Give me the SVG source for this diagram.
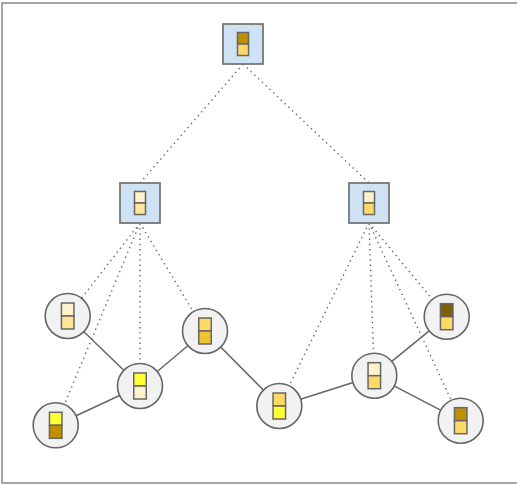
<svg xmlns="http://www.w3.org/2000/svg" width="517" height="484" viewBox="0 0 517 484">
<style>
.frame{fill:#fff;stroke:#888;stroke-width:1.5}
.box{fill:#cfe2f3;stroke:#777;stroke-width:1.8}
.circ{fill:#f2f2f2;stroke:#666;stroke-width:1.6}
.cell{stroke:#666;stroke-width:1.5}
.solid{stroke:#666;stroke-width:1.5;fill:none}
.dot{stroke:#666;stroke-width:1.4;stroke-dasharray:1.4 3.8;fill:none}
</style>
<rect class="frame" x="2" y="3" width="520" height="480"/>
<g id="connectors">
<line class="dot" x1="243" y1="64" x2="140" y2="183"/>
<line class="dot" x1="243" y1="64" x2="369" y2="183"/>
<line class="dot" x1="140" y1="223" x2="67.7" y2="316"/>
<line class="dot" x1="140" y1="223" x2="55.7" y2="425.3"/>
<line class="dot" x1="140" y1="223" x2="140" y2="386"/>
<line class="dot" x1="140" y1="223" x2="205" y2="331.3"/>
<line class="dot" x1="369" y1="223" x2="279.3" y2="406"/>
<line class="dot" x1="369" y1="223" x2="374.3" y2="375.7"/>
<line class="dot" x1="369" y1="223" x2="446.7" y2="316.7"/>
<line class="dot" x1="369" y1="223" x2="460.7" y2="420.7"/>
<line class="solid" x1="67.7" y1="316" x2="140" y2="386"/>
<line class="solid" x1="140" y1="386" x2="205" y2="331.3"/>
<line class="solid" x1="140" y1="386" x2="55.7" y2="425.3"/>
<line class="solid" x1="205" y1="331.3" x2="279.3" y2="406"/>
<line class="solid" x1="279.3" y1="406" x2="374.3" y2="375.7"/>
<line class="solid" x1="374.3" y1="375.7" x2="446.7" y2="316.7"/>
<line class="solid" x1="374.3" y1="375.7" x2="460.7" y2="420.7"/>
</g>
<g id="root">
<rect class="box" x="223" y="24" width="40" height="40"/>
<rect class="cell" x="237.5" y="32.5" width="11" height="11.5" fill="#bf9000"/>
<rect class="cell" x="237.5" y="44" width="11" height="11.5" fill="#ffd966"/>
</g>
<g id="midLeft">
<rect class="box" x="120" y="183" width="40" height="40"/>
<rect class="cell" x="134.5" y="191.5" width="11" height="11.5" fill="#fff2cc"/>
<rect class="cell" x="134.5" y="203" width="11" height="11.5" fill="#ffe599"/>
</g>
<g id="midRight">
<rect class="box" x="349" y="183" width="40" height="40"/>
<rect class="cell" x="363.5" y="191.5" width="11" height="11.5" fill="#fff2cc"/>
<rect class="cell" x="363.5" y="203" width="11" height="11.5" fill="#ffd966"/>
</g>
<g id="nA" transform="translate(67.7,316)">
<circle class="circ" r="22.5"/>
<rect class="cell" x="-6.25" y="-13" width="12.5" height="13" fill="#fff2cc"/>
<rect class="cell" x="-6.25" y="0" width="12.5" height="13" fill="#ffe599"/>
</g>
<g id="nB" transform="translate(140,386)">
<circle class="circ" r="22.5"/>
<rect class="cell" x="-6.25" y="-13" width="12.5" height="13" fill="#ffff33"/>
<rect class="cell" x="-6.25" y="0" width="12.5" height="13" fill="#fff2cc"/>
</g>
<g id="nC" transform="translate(205,331)">
<circle class="circ" r="22.5"/>
<rect class="cell" x="-6.25" y="-13" width="12.5" height="13" fill="#ffd966"/>
<rect class="cell" x="-6.25" y="0" width="12.5" height="13" fill="#f1c232"/>
</g>
<g id="nD" transform="translate(55.7,425.3)">
<circle class="circ" r="22.5"/>
<rect class="cell" x="-6.25" y="-13" width="12.5" height="13" fill="#ffff33"/>
<rect class="cell" x="-6.25" y="0" width="12.5" height="13" fill="#bf9000"/>
</g>
<g id="nE" transform="translate(279.3,406)">
<circle class="circ" r="22.5"/>
<rect class="cell" x="-6.25" y="-13" width="12.5" height="13" fill="#ffd966"/>
<rect class="cell" x="-6.25" y="0" width="12.5" height="13" fill="#ffff33"/>
</g>
<g id="nF" transform="translate(374.3,375.7)">
<circle class="circ" r="22.5"/>
<rect class="cell" x="-6.25" y="-13" width="12.5" height="13" fill="#fff2cc"/>
<rect class="cell" x="-6.25" y="0" width="12.5" height="13" fill="#ffd966"/>
</g>
<g id="nG" transform="translate(446.7,316.7)">
<circle class="circ" r="22.5"/>
<rect class="cell" x="-6.25" y="-13" width="12.5" height="13" fill="#7f6000"/>
<rect class="cell" x="-6.25" y="0" width="12.5" height="13" fill="#ffd966"/>
</g>
<g id="nH" transform="translate(460.7,420.7)">
<circle class="circ" r="22.5"/>
<rect class="cell" x="-6.25" y="-13" width="12.5" height="13" fill="#bf9000"/>
<rect class="cell" x="-6.25" y="0" width="12.5" height="13" fill="#ffd966"/>
</g>
</svg>
